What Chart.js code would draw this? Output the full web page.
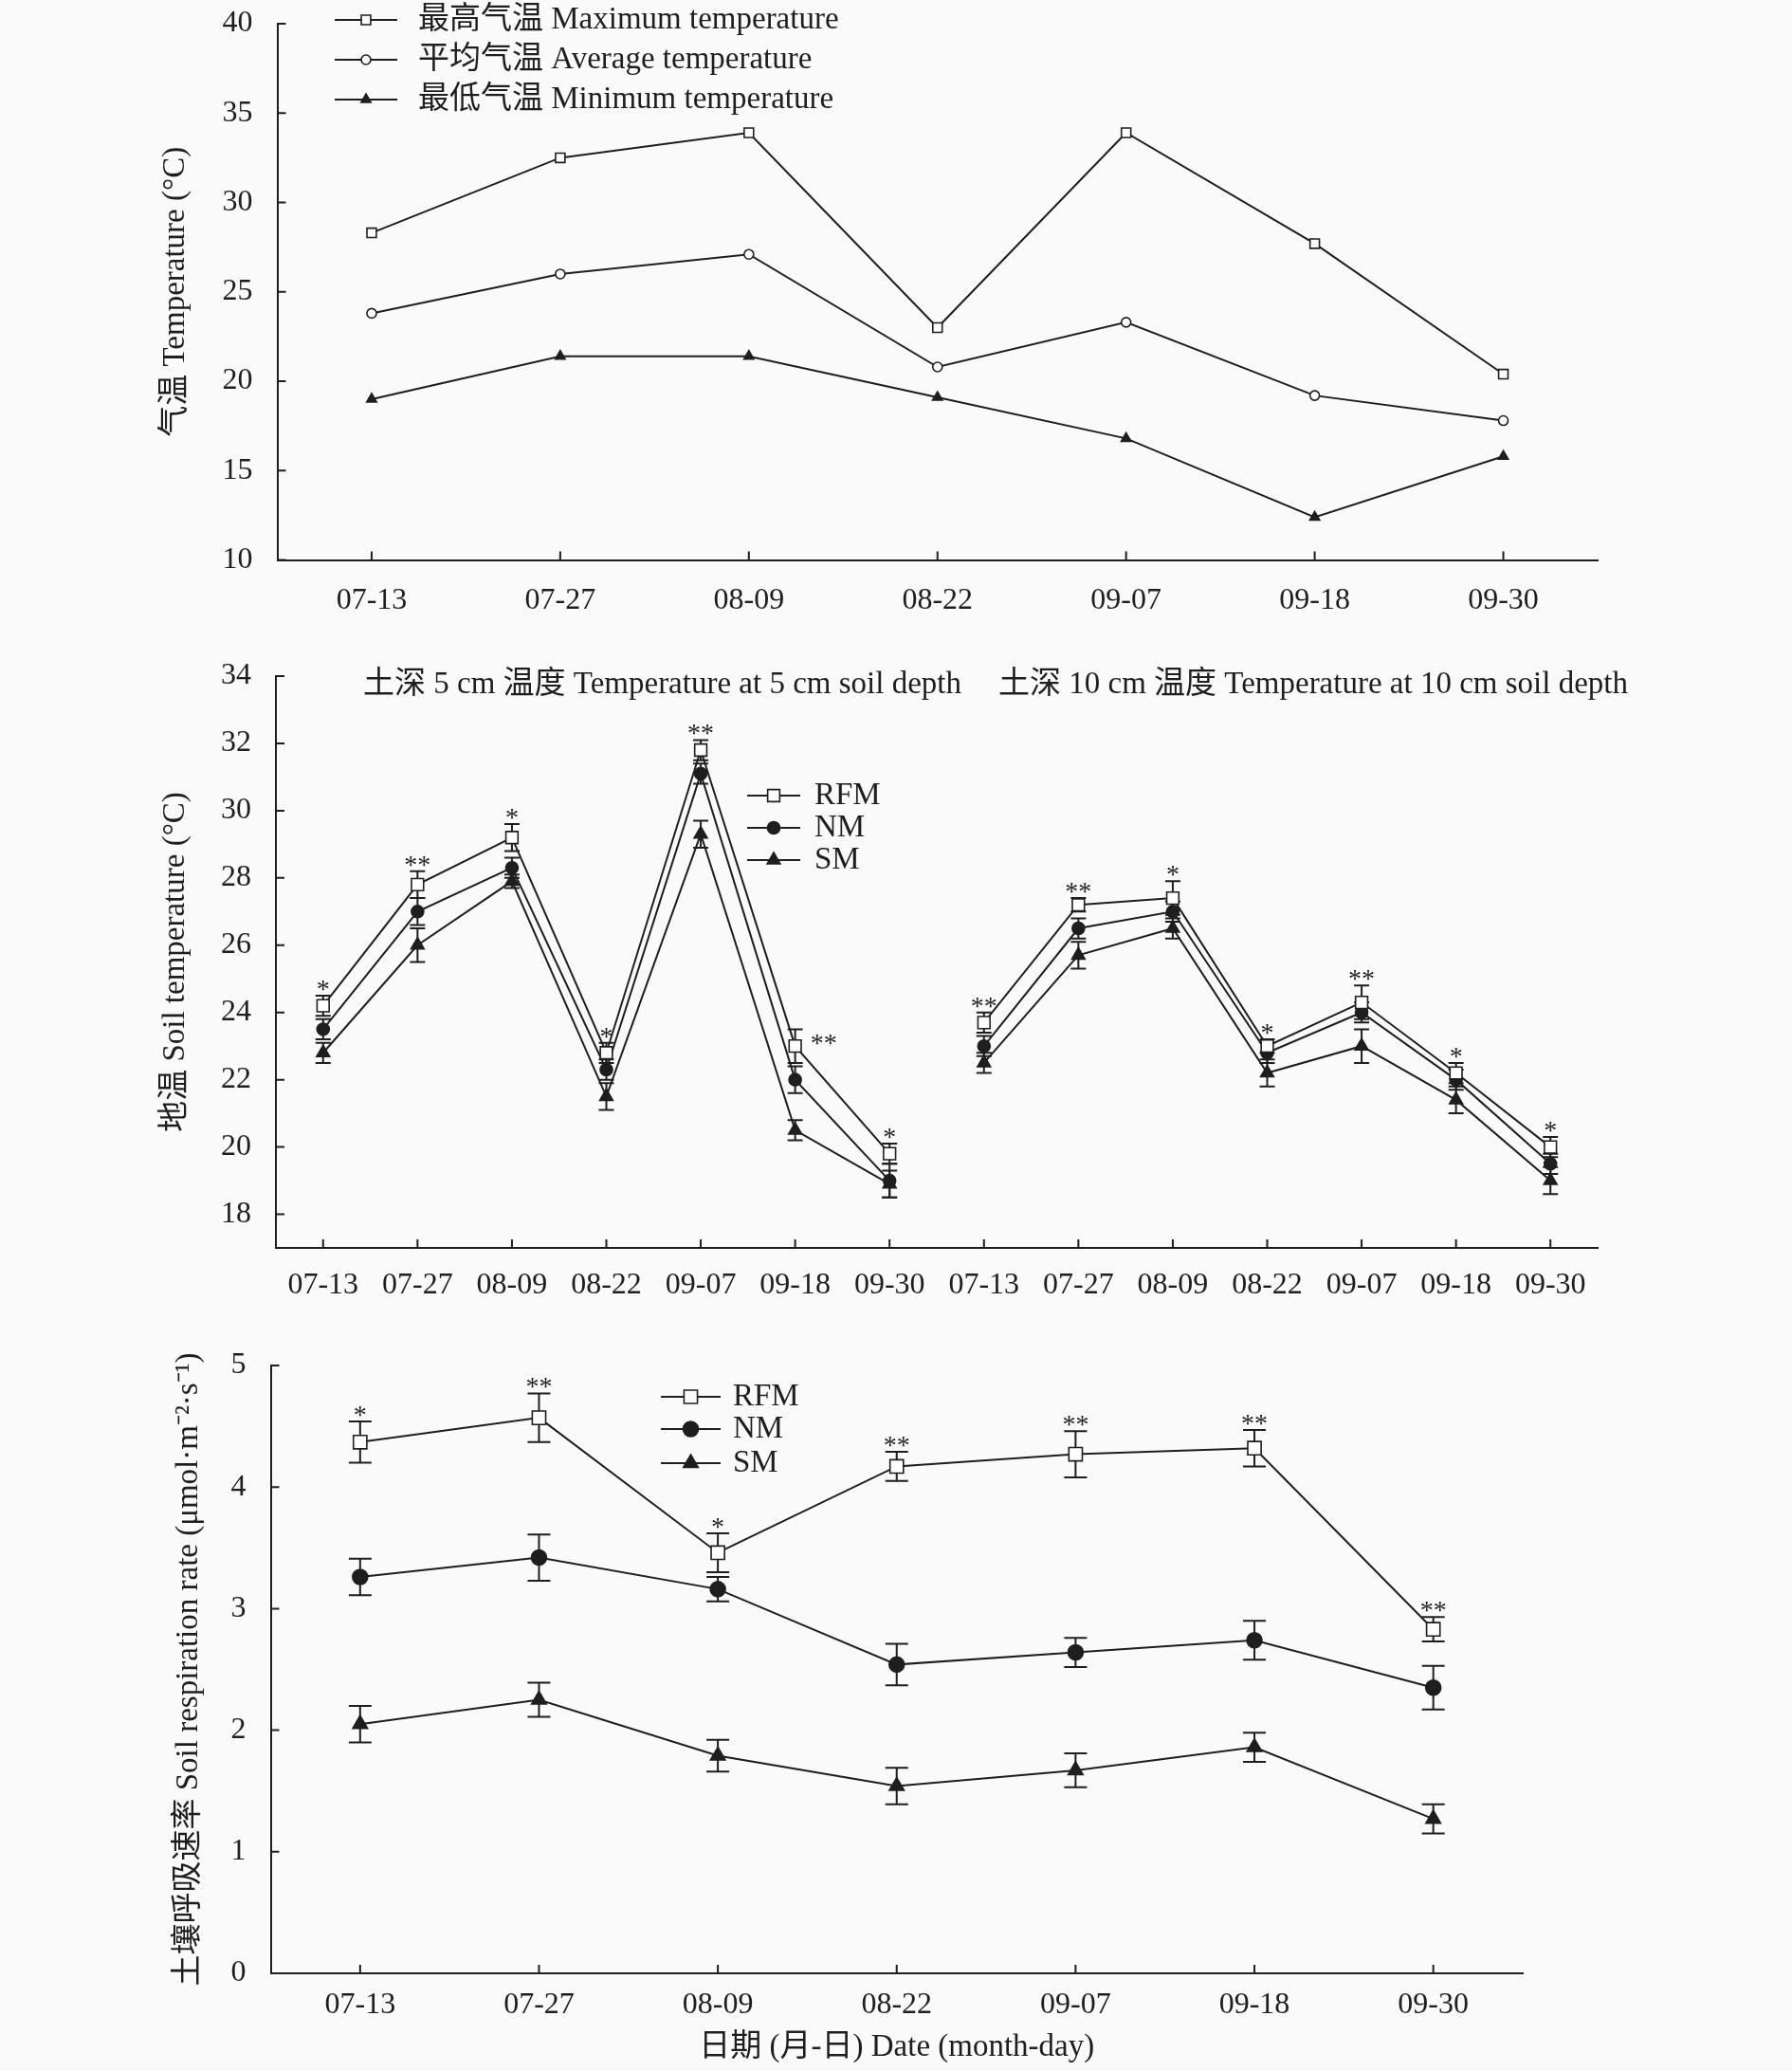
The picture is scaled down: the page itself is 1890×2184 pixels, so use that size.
<!DOCTYPE html>
<html lang="zh">
<head>
<meta charset="UTF-8">
<title>气温、地温与土壤呼吸速率</title>
<script src="https://cdn.jsdelivr.net/npm/chart.js@4"></script>
<style>
  body { margin: 0; background: #fafafa; }
  .panel { position: absolute; left: 0; width: 1890px; }
  canvas { display: block; }
</style>
</head>
<body>
<div class="panel" style="top:0"><canvas id="airChart" width="1890" height="690"></canvas></div>
<div class="panel" style="top:690px"><canvas id="soilChart" width="1890" height="710"></canvas></div>
<div class="panel" style="top:1400px"><canvas id="respChart" width="1890" height="784"></canvas></div>

<script>
// --- données ---
const dates = ['07-13', '07-27', '08-09', '08-22', '09-07', '09-18', '09-30'];

const airTicks = [10, 15, 20, 25, 30, 35, 40];
const airMax = [28.3, 32.5, 33.9, 23.0, 33.9, 27.7, 20.4];
const airAvg = [23.8, 26.0, 27.1, 20.8, 23.3, 19.2, 17.8];
const airMin = [19.0, 21.4, 21.4, 19.1, 16.8, 12.4, 15.8];

const soilTicks = [18, 20, 22, 24, 26, 28, 30, 32, 34];
const soil5RFM = [24.2, 27.8, 29.2, 22.8, 31.8, 23.0, 19.8];
const soil5NM = [23.5, 27.0, 28.3, 22.3, 31.1, 22.0, 19.0];
const soil5SM = [22.8, 26.0, 27.9, 21.5, 29.3, 20.5, 18.9];
const soil5RFMErr = [0.3, 0.4, 0.4, 0.3, 0.3, 0.5, 0.3];
const soil5NMErr = [0.3, 0.4, 0.3, 0.3, 0.3, 0.4, 0.5];
const soil5SMErr = [0.3, 0.5, 0.2, 0.4, 0.4, 0.3, 0.4];
const soil5Sig = ['*', '**', '*', '*', '**', '**', '*'];

const soil10RFM = [23.7, 27.2, 27.4, 23.0, 24.3, 22.2, 20.0];
const soil10NM = [23.0, 26.5, 27.0, 22.8, 24.0, 22.0, 19.5];
const soil10SM = [22.5, 25.7, 26.5, 22.2, 23.0, 21.4, 19.0];
const soil10RFMErr = [0.3, 0.2, 0.5, 0.2, 0.5, 0.3, 0.3];
const soil10NMErr = [0.3, 0.3, 0.3, 0.3, 0.3, 0.3, 0.3];
const soil10SMErr = [0.3, 0.4, 0.3, 0.4, 0.5, 0.4, 0.4];
const soil10Sig = ['**', '**', '*', '*', '**', '*', '*'];

const respTicks = [0, 1, 2, 3, 4, 5];
const respRFM = [4.37, 4.57, 3.46, 4.17, 4.27, 4.32, 2.83];
const respNM = [3.26, 3.42, 3.16, 2.54, 2.64, 2.74, 2.35];
const respSM = [2.05, 2.25, 1.79, 1.54, 1.67, 1.86, 1.27];
const respRFMErr = [0.17, 0.20, 0.16, 0.12, 0.19, 0.15, 0.10];
const respNMErr = [0.15, 0.19, 0.10, 0.17, 0.12, 0.16, 0.18];
const respSMErr = [0.15, 0.14, 0.13, 0.15, 0.14, 0.12, 0.12];
const respSig = ['*', '**', '*', '**', '**', '**', '**'];

// --- style ---
const FONT = '"Liberation Serif", "Times New Roman", "Noto Sans CJK SC", serif';
const INK = '#1e1e1e';
const TXT = 33;

Chart.defaults.font.family = FONT;
Chart.defaults.font.size = 32;
Chart.defaults.color = INK;
Chart.defaults.animation = false;
Chart.defaults.responsive = false;
Chart.defaults.devicePixelRatio = 1;
Chart.defaults.plugins.legend.display = false;
Chart.defaults.plugins.tooltip.enabled = false;

// 14 catégories pour le panneau du milieu : 5 cm puis 10 cm
function pad(arr, after) {
    const gap = arr.map(() => null);
    return after ? gap.concat(arr) : arr.concat(gap);
}

function series(label, data, shape, r, open, extra) {
    return Object.assign({
        label: label,
        data: data,
        borderColor: INK,
        borderWidth: 2,
        pointStyle: shape,
        pointRadius: r,
        pointBorderWidth: 1.6,
        pointBackgroundColor: open ? '#ffffff' : INK,
        pointBorderColor: INK,
        fill: false,
        tension: 0,
        spanGaps: false
    }, extra || {});
}

function yAxis(min, max, ticks, title, width) {
    return {
        min: min,
        max: max,
        afterBuildTicks: s => { s.ticks = ticks.map(v => ({ value: v })); },
        afterFit: s => { s.width = width; s.paddingTop = 0; s.paddingBottom = 0; },
        grid: { display: false, drawTicks: false },
        border: { display: true, color: INK, width: 2 },
        ticks: { padding: 26, font: { size: 32 } },
        title: { display: true, text: title, font: { size: TXT }, padding: 0 }
    };
}

function xAxis(height, pad, title) {
    return {
        type: 'category',
        offset: true,
        afterFit: s => { s.height = height; },
        grid: { display: false, drawTicks: false },
        border: { display: true, color: INK, width: 2 },
        ticks: { padding: pad, autoSkip: false, maxRotation: 0, font: { size: 32 } },
        title: title ? { display: true, text: title, font: { size: TXT }, padding: { top: 0, bottom: 5 } } : { display: false }
    };
}

// barres d'erreur, graduations intérieures, légende, astérisques
const figureExtras = {
    id: 'figureExtras',
    beforeDatasetsDraw(chart) {
        const ctx = chart.ctx;
        const y = chart.scales.y;
        const cap = chart.options.plugins.figureExtras.cap || 8;
        ctx.save();
        ctx.strokeStyle = INK;
        ctx.lineWidth = 2;
        chart.data.datasets.forEach((ds, i) => {
            if (!ds.errors) return;
            const meta = chart.getDatasetMeta(i);
            ds.data.forEach((v, j) => {
                if (v == null || ds.errors[j] == null) return;
                const x = meta.data[j].x;
                const top = y.getPixelForValue(v + ds.errors[j]);
                const bot = y.getPixelForValue(v - ds.errors[j]);
                ctx.beginPath();
                ctx.moveTo(x, top); ctx.lineTo(x, bot);
                ctx.moveTo(x - cap, top); ctx.lineTo(x + cap, top);
                ctx.moveTo(x - cap, bot); ctx.lineTo(x + cap, bot);
                ctx.stroke();
            });
        });
        ctx.restore();
    },
    afterDraw(chart) {
        const ctx = chart.ctx;
        const opts = chart.options.plugins.figureExtras;
        const area = chart.chartArea;
        const x = chart.scales.x, y = chart.scales.y;

        ctx.save();
        ctx.strokeStyle = INK;
        ctx.lineWidth = 2;
        ctx.beginPath();
        y.ticks.forEach((t, i) => {
            const py = y.getPixelForTick(i);
            ctx.moveTo(area.left, py); ctx.lineTo(area.left + 9, py);
        });
        x.ticks.forEach((t, i) => {
            const px = x.getPixelForTick(i);
            ctx.moveTo(px, area.bottom); ctx.lineTo(px, area.bottom - 9);
        });
        ctx.stroke();

        // astérisques de signification
        ctx.fillStyle = INK;
        ctx.font = '28px ' + FONT;
        chart.data.datasets.forEach((ds, i) => {
            if (!ds.sig) return;
            const meta = chart.getDatasetMeta(i);
            ds.data.forEach((v, j) => {
                if (v == null || !ds.sig[j]) return;
                const px = meta.data[j].x;
                ctx.textBaseline = 'alphabetic';
                if (ds.sigSide && ds.sigSide.includes(j)) {
                    ctx.textAlign = 'left';
                    ctx.fillText(ds.sig[j], px + 16, y.getPixelForValue(v) + 6);
                } else {
                    ctx.textAlign = 'center';
                    ctx.fillText(ds.sig[j], px, y.getPixelForValue(v + ds.errors[j]) + 2);
                }
            });
        });

        // titres internes
        ctx.font = TXT + 'px ' + FONT;
        ctx.textAlign = 'left';
        ctx.textBaseline = 'middle';
        (opts.titles || []).forEach(t => ctx.fillText(t.text, t.x, t.y));

        // légende
        const lg = opts.legend;
        if (lg) {
            for (let k = 0; k < lg.rows.length; k++) {
                const ds = chart.data.datasets[k];
                const ry = lg.rows[k];
                ctx.strokeStyle = INK;
                ctx.lineWidth = 2;
                ctx.beginPath();
                ctx.moveTo(lg.from, ry); ctx.lineTo(lg.to, ry);
                ctx.stroke();
                ctx.fillStyle = ds.pointBackgroundColor;
                ctx.lineWidth = ds.pointBorderWidth;
                Chart.helpers.drawPoint(ctx, {
                    pointStyle: ds.pointStyle, radius: ds.pointRadius,
                    rotation: 0, borderWidth: ds.pointBorderWidth
                }, (lg.from + lg.to) / 2, ry);
                ctx.fillStyle = INK;
                ctx.font = TXT + 'px ' + FONT;
                ctx.textAlign = 'left';
                ctx.textBaseline = 'middle';
                ctx.fillText(ds.label, lg.text, ry);
            }
        }
        ctx.restore();
    }
};

// --- panneau 1 : température de l'air ---
new Chart(document.getElementById('airChart'), {
    type: 'line',
    data: {
        labels: dates,
        datasets: [
            series('最高气温 Maximum temperature', airMax, 'rect', 7, true),
            series('平均气温 Average temperature', airAvg, 'circle', 5, true),
            series('最低气温 Minimum temperature', airMin, 'triangle', 6, false)
        ]
    },
    options: {
        layout: { padding: { left: 166, right: 205, top: 25, bottom: 0 } },
        scales: {
            x: xAxis(99.4, 24),
            y: yAxis(10, 40, airTicks, '气温 Temperature (°C)', 126.5)
        },
        plugins: {
            figureExtras: { legend: { from: 353, to: 419, text: 441, rows: [21, 63, 105] } }
        }
    },
    plugins: [figureExtras]
});

// --- panneau 2 : température du sol ---
new Chart(document.getElementById('soilChart'), {
    type: 'line',
    data: {
        labels: dates.concat(dates),
        datasets: [
            series('RFM', pad(soil5RFM), 'rect', 9, true, { errors: pad(soil5RFMErr), sig: pad(soil5Sig), sigSide: [5] }),
            series('NM', pad(soil5NM), 'circle', 6.5, false, { errors: pad(soil5NMErr) }),
            series('SM', pad(soil5SM), 'triangle', 8, false, { errors: pad(soil5SMErr) }),
            series('RFM', pad(soil10RFM, true), 'rect', 9, true, { errors: pad(soil10RFMErr, true), sig: pad(soil10Sig, true) }),
            series('NM', pad(soil10NM, true), 'circle', 6.5, false, { errors: pad(soil10NMErr, true) }),
            series('SM', pad(soil10SM, true), 'triangle', 8, false, { errors: pad(soil10SMErr, true) })
        ]
    },
    options: {
        layout: { padding: { left: 166, right: 205, top: 23, bottom: 0 } },
        scales: {
            x: xAxis(84, 20),
            y: yAxis(17, 34, soilTicks, '地温 Soil temperature (°C)', 125)
        },
        plugins: {
            figureExtras: {
                cap: 8,
                legend: { from: 788, to: 844, text: 859, rows: [149, 183, 217] },
                titles: [
                    { text: '土深 5 cm 温度 Temperature at 5 cm soil depth', x: 383, y: 32 },
                    { text: '土深 10 cm 温度 Temperature at 10 cm soil depth', x: 1053, y: 32 }
                ]
            }
        }
    },
    plugins: [figureExtras]
});

// --- panneau 3 : respiration du sol ---
new Chart(document.getElementById('respChart'), {
    type: 'line',
    data: {
        labels: dates,
        datasets: [
            series('RFM', respRFM, 'rect', 10, true, { errors: respRFMErr, sig: respSig }),
            series('NM', respNM, 'circle', 8, false, { errors: respNMErr }),
            series('SM', respSM, 'triangle', 9, false, { errors: respSMErr })
        ]
    },
    options: {
        layout: { padding: { left: 180, right: 284, top: 40, bottom: 0 } },
        scales: {
            x: xAxis(103, 14, '日期 (月-日) Date (month-day)'),
            y: yAxis(0, 5, respTicks, '土壤呼吸速率 Soil respiration rate (μmol·m⁻²·s⁻¹)', 105.5)
        },
        plugins: {
            figureExtras: { cap: 12, legend: { from: 697, to: 760, text: 773, rows: [73, 107, 143] } }
        }
    },
    plugins: [figureExtras]
});
</script>
</body>
</html>
